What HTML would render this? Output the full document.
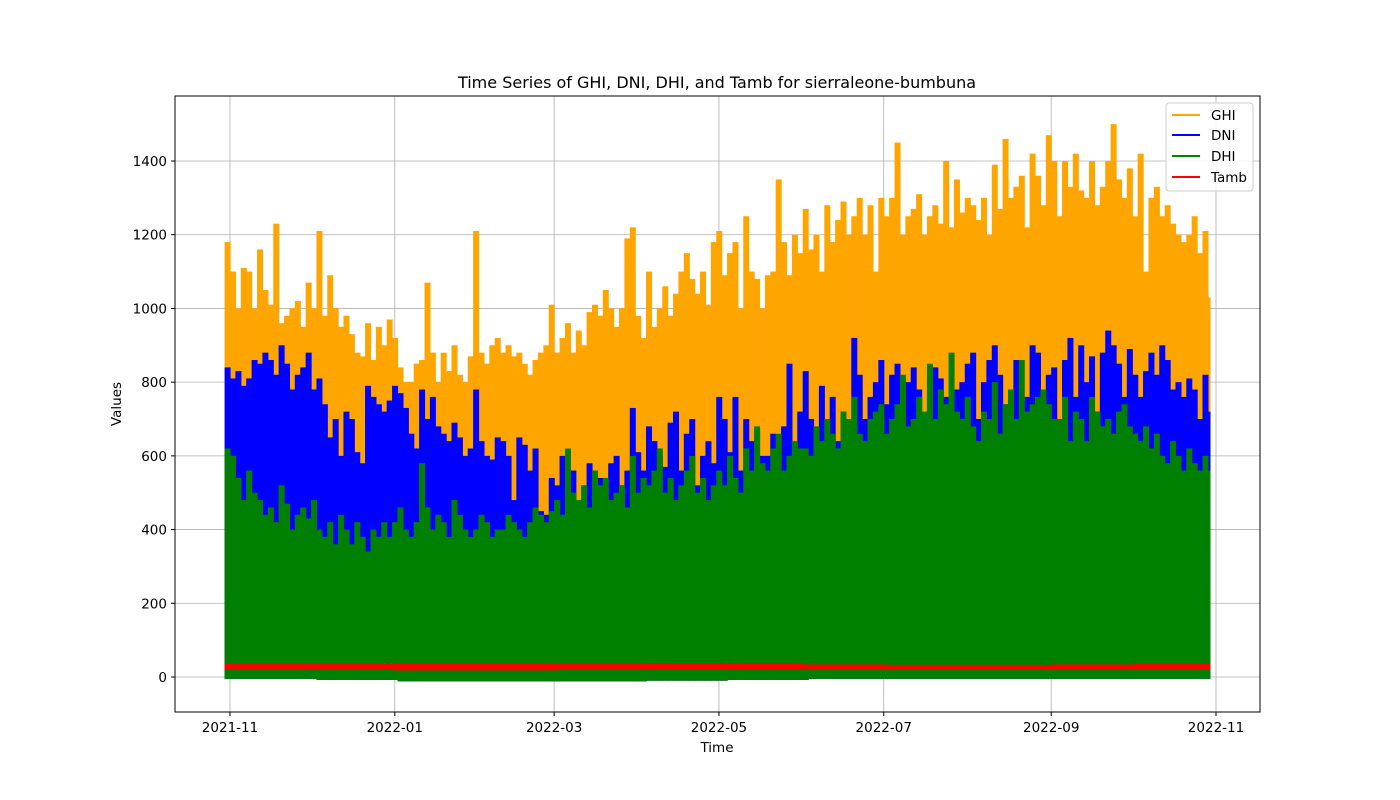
<!DOCTYPE html>
<html><head><meta charset="utf-8"><style>
body{margin:0;background:#fff}
svg{display:block;font-family:"DejaVu Sans","Liberation Sans",sans-serif}
</style></head><body>
<svg id="chart" width="1400" height="800" viewBox="0 0 1400 800">
<rect width="1400" height="800" fill="#fff"/>
<g id="grid"></g>
<g id="marks"></g>
<rect x="175" y="96" width="1085" height="616" fill="none" stroke="#000" stroke-width="1"/>
<g id="axes"></g>
<text x="717" y="88" text-anchor="middle" font-size="16">Time Series of GHI, DNI, DHI, and Tamb for sierraleone-bumbuna</text>
<text x="717" y="752" text-anchor="middle" font-size="13.5">Time</text>
<text x="121" y="404" text-anchor="middle" font-size="13.5" transform="rotate(-90 121 404)">Values</text>
<g>
<rect x="1166" y="103" width="87" height="88" rx="3" fill="#fff" fill-opacity="0.85" stroke="#ccc"/>
<g><line x1="1172" x2="1200" y1="115" y2="115" stroke="orange" stroke-width="2"/><text x="1211" y="120" font-size="13.5">GHI</text></g>
<g><line x1="1172" x2="1200" y1="135" y2="135" stroke="blue" stroke-width="2"/><text x="1211" y="140" font-size="13.5">DNI</text></g>
<g><line x1="1172" x2="1200" y1="156" y2="156" stroke="green" stroke-width="2"/><text x="1211" y="161" font-size="13.5">DHI</text></g>
<g><line x1="1172" x2="1200" y1="177" y2="177" stroke="red" stroke-width="2"/><text x="1211" y="182" font-size="13.5">Tamb</text></g>
</g>
</svg>
<script>
// 2-day resolution peaks starting 2021-10-30
const ghi=[1180,1100,1000,1110,1100,1000,1160,1050,1010,1230,960,980,1000,1020,950,
1070,1000,1210,980,1090,1000,950,980,930,880,870,960,860,950,900,970,
920,840,800,800,850,860,1070,880,800,880,830,900,820,800,870,
1210,880,850,900,920,880,900,870,880,850,820,860,880,900,
1010,880,920,960,880,940,900,990,1010,980,1050,1000,950,1000,1190,1220,
980,920,1100,950,1000,1060,980,1040,1100,1150,1080,1040,1100,1010,1180,
1210,1090,1150,1180,1000,1250,1100,1080,1000,1090,1100,1350,1180,1090,1200,1150,
1270,1160,1200,1100,1280,1180,1240,1290,1200,1250,1300,1200,1280,1100,1300,
1250,1300,1450,1200,1250,1270,1310,1200,1250,1280,1230,1400,1220,1350,1260,1300,
1280,1240,1300,1200,1390,1270,1460,1300,1330,1360,1220,1420,1360,1280,1470,1400,
1250,1400,1330,1420,1320,1300,1400,1280,1330,1400,1500,1350,1300,1380,1250,
1420,1100,1300,1330,1250,1280,1230,1200,1180,1200,1250,1150,1210,1030,990];
const dni=[840,810,830,790,810,860,850,880,860,820,900,850,780,820,840,
880,780,810,740,650,700,600,720,700,610,580,790,760,740,720,750,
790,770,730,660,620,780,700,760,680,660,640,690,650,600,620,
780,640,600,590,650,640,600,480,650,630,560,620,450,440,
540,520,600,560,560,480,520,580,470,540,500,580,600,520,560,730,
610,560,680,640,600,570,690,720,560,660,700,520,600,640,580,
760,700,610,760,560,700,640,670,600,600,660,560,680,850,600,720,
830,700,620,790,700,760,640,720,680,920,820,700,760,800,860,
740,820,850,720,800,840,780,700,800,840,810,760,700,780,800,850,
880,700,800,860,900,820,740,780,860,730,760,900,880,760,820,840,
690,860,920,760,900,800,870,720,880,940,900,850,760,890,820,
760,830,880,820,900,860,780,800,760,810,780,700,820,720,800];
const dhi=[620,600,540,480,560,500,480,440,460,420,520,470,400,440,460,
430,480,400,380,420,360,440,400,360,420,380,340,400,380,420,380,
420,460,400,380,420,580,460,400,440,420,380,480,440,400,380,
400,440,420,380,400,400,440,420,400,380,420,460,440,420,
450,480,440,620,500,480,520,460,560,520,540,480,500,520,460,600,
500,540,520,560,620,500,540,480,520,560,600,500,540,480,520,
560,520,600,540,500,620,560,680,580,560,620,660,560,600,640,620,
620,600,680,640,700,660,620,720,700,760,660,640,700,720,740,
660,700,740,820,680,700,760,720,850,700,780,740,880,720,700,760,
680,640,720,700,800,660,740,780,700,860,720,740,760,780,740,700,
700,760,640,720,700,640,760,720,680,700,660,720,740,680,660,
640,680,620,660,600,580,640,600,560,620,580,560,600,560,560];
// monthly minima / Tamb range (Nov 2021 .. Oct 2022)
const monthlyMin=[-5,-8,-12,-12,-12,-10,-8,-5,-5,-5,-5,-5];
const tambMin=[20,20,18,18,20,21,21,21,20,20,20,20];
const tambMax=[35,35,38,38,38,37,36,34,33,33,34,35];
const yTicks=[0,200,400,600,800,1000,1200,1400];
const xTickLabels=["2021-11","2022-01","2022-03","2022-05","2022-07","2022-09","2022-11"];
const xTickDays=[0,61,120,181,242,304,365];

const NS="http://www.w3.org/2000/svg";
const X0=230,PXD=(1216-230)/365,startDay=-2;
const xd=d=>X0+d*PXD;
const yv=v=>677-v*(516/1400);
function mk(tag,attrs,parent){const e=document.createElementNS(NS,tag);for(const k in attrs)e.setAttribute(k,attrs[k]);parent.appendChild(e);return e;}
const grid=document.getElementById('grid'),marks=document.getElementById('marks'),axes=document.getElementById('axes');
yTicks.forEach(t=>{
  const y=yv(t);
  const g=mk('line',{x1:175,x2:1260,y1:y,y2:y,stroke:'#b0b0b0','stroke-width':0.8},grid);
  
  
  mk('line',{x1:171,x2:175,y1:y,y2:y,stroke:'#000'},axes);
  const tx=mk('text',{x:167,y:y+5,'text-anchor':'end','font-size':13.5},axes);
  tx.textContent=t;
  
  
});
xTickDays.forEach((d,i)=>{
  const x=xd(d);
  const g=mk('line',{x1:x,x2:x,y1:96,y2:712,stroke:'#b0b0b0','stroke-width':0.8},grid);
  
  
  mk('line',{x1:x,x2:x,y1:712,y2:716,stroke:'#000'},axes);
  const tx=mk('text',{x:x,y:732,'text-anchor':'middle','font-size':13.5},axes);
  tx.textContent=xTickLabels[i];
  
  
});
function monthIdx(day){return Math.max(0,Math.min(11,Math.floor((day)/30.42)));}
function series(arr,color,name){
  const g=mk('g',{},marks);
  
  
  arr.forEach((v,i)=>{
    const d=startDay+i*2;
    const lo=monthlyMin[monthIdx(d)];
    const x=xd(d);
    const w=Math.min(2*PXD+0.6,1210.5-x);
    if(w<=0)return;
    mk('rect',{x:x,y:yv(v),width:w,height:yv(lo)-yv(v),fill:color},g);
  });
}
series(ghi,'orange','ghi-series');
series(dni,'blue','dni-series');
series(dhi,'green','dhi-series');
const tg=mk('g',{},marks);


tambMin.forEach((v,i)=>{
  const a=Math.max(xd(i*30.42),xd(startDay)), b=Math.min(xd((i+1)*30.42),1210.5);
  const x=i===0?xd(startDay):a;
  mk('rect',{x:x,y:yv(tambMax[i]),width:b-x,height:yv(v)-yv(tambMax[i]),fill:'red'},tg);
});
</script>
</body></html>
